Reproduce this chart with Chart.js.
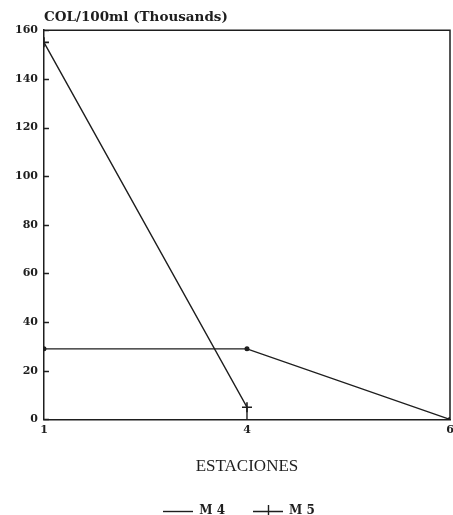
<!DOCTYPE html>
<html>
<head>
<meta charset="utf-8">
<script src="https://cdn.jsdelivr.net/npm/chart.js@4.4.1/dist/chart.umd.min.js"></script>
<style>
  body { margin: 0; background: #fff; }
  #chart { display: block; }
</style>
</head>
<body>
<canvas id="chart" width="453" height="515"></canvas>
<script>
// sampling stations along the x axis (evenly spaced)
var stations = ["1", "4", "6"];
var m4 = [29, 29, 0];
// M 5 drops at station 4, then a vertical run down to zero
var m5x = [0, 1, 1];
var m5y = [155, 5, 0];
var yTicks = [0, 20, 40, 60, 80, 100, 120, 140, 160];

var ink = '#1e1e1e';
var serifBold = { family: "'DejaVu Serif', serif", size: 11, weight: 'bold' };

function legendIcon(withCross) {
  var c = document.createElement('canvas');
  c.width = 30; c.height = 12;
  var g = c.getContext('2d');
  g.strokeStyle = ink;
  g.lineWidth = 1.4;
  g.beginPath();
  g.moveTo(0, 6.5); g.lineTo(30, 6.5);
  if (withCross) { g.moveTo(15.5, 0); g.lineTo(15.5, 12); }
  g.stroke();
  return c;
}

// box around plot + small inward ticks on the y axis
var frame = {
  id: 'frame',
  afterLayout: function(chart) {
    // legend sits a little left of the plot centre
    chart.legend.left -= 8;
    chart.legend.right -= 8;
  },
  afterDraw: function(chart) {
    var a = chart.chartArea, ctx = chart.ctx, ys = chart.scales.y;
    ctx.save();
    ctx.strokeStyle = ink;
    ctx.lineWidth = 1.5;
    ctx.beginPath();
    ctx.moveTo(a.left, a.top); ctx.lineTo(a.right, a.top); ctx.lineTo(a.right, a.bottom);
    ys.ticks.forEach(function(t) {
      var p = Math.round(ys.getPixelForValue(t.value)) + 0.5;
      ctx.moveTo(a.left, p); ctx.lineTo(a.left + 5, p);
    });
    ctx.stroke();
    ctx.restore();
  }
};

var config = {
  type: 'line',
  data: {
    datasets: [{
      label: 'M 4',
      data: m4.map(function(v, i) { return { x: i, y: v }; }),
      borderColor: ink,
      backgroundColor: ink,
      borderWidth: 1.4,
      pointRadius: 1.8,
      pointStyle: 'circle',
      legendIcon: legendIcon(false)
    }, {
      label: 'M 5',
      data: m5x.map(function(x, i) { return { x: x, y: m5y[i] }; }),
      borderColor: ink,
      backgroundColor: ink,
      borderWidth: 1.4,
      pointRadius: [5, 5, 0],
      pointBorderWidth: 1.6,
      pointStyle: 'cross',
      legendIcon: legendIcon(true)
    }]
  },
  options: {
    responsive: false,
    animation: false,
    layout: { autoPadding: false, padding: { left: 9, right: 3, top: 0, bottom: -12 } },
    plugins: {
      title: {
        display: true,
        text: 'COL/100ml (Thousands)',
        align: 'start',
        fullSize: false,
        color: ink,
        font: { family: "'DejaVu Serif', serif", size: 13.5, weight: 'bold' },
        padding: { top: 9, bottom: 5 }
      },
      legend: {
        position: 'bottom',
        fullSize: false,
        labels: {
          usePointStyle: true,
          pointStyleWidth: 30,
          color: ink,
          padding: 28,
          font: { family: "'DejaVu Serif', serif", size: 12, weight: 'bold' },
          generateLabels: function(chart) {
            return chart.data.datasets.map(function(ds, i) {
              return {
                text: ds.label,
                pointStyle: ds.legendIcon,
                fillStyle: ink,
                strokeStyle: ink,
                lineWidth: 0,
                fontColor: ink,
                datasetIndex: i
              };
            });
          }
        }
      },
      tooltip: { enabled: false }
    },
    scales: {
      x: {
        type: 'linear',
        min: 0,
        max: stations.length - 1,
        afterFit: function(s) { s.paddingLeft = 0; s.paddingRight = 0; },
        afterBuildTicks: function(s) {
          s.ticks = stations.map(function(_, i) { return { value: i }; });
        },
        ticks: {
          color: ink,
          font: serifBold,
          padding: 4,
          autoSkip: false,
          maxRotation: 0,
          callback: function(v) { return stations[v]; }
        },
        grid: { display: false, drawTicks: false },
        border: { display: true, color: ink, width: 1.5 },
        title: {
          display: true,
          text: 'ESTACIONES',
          color: ink,
          font: { family: "'Liberation Serif', serif", size: 17 },
          padding: { top: 16, bottom: 0 }
        }
      },
      y: {
        min: 0,
        max: 160,
        afterBuildTicks: function(s) {
          s.ticks = yTicks.map(function(v) { return { value: v }; });
        },
        ticks: { color: ink, font: serifBold, padding: 6 },
        grid: { display: false, drawTicks: false },
        border: { display: true, color: ink, width: 1.5 }
      }
    }
  },
  plugins: [frame]
};

var ctx = document.getElementById('chart').getContext('2d');
new Chart(ctx, config);
</script>
</body>
</html>
